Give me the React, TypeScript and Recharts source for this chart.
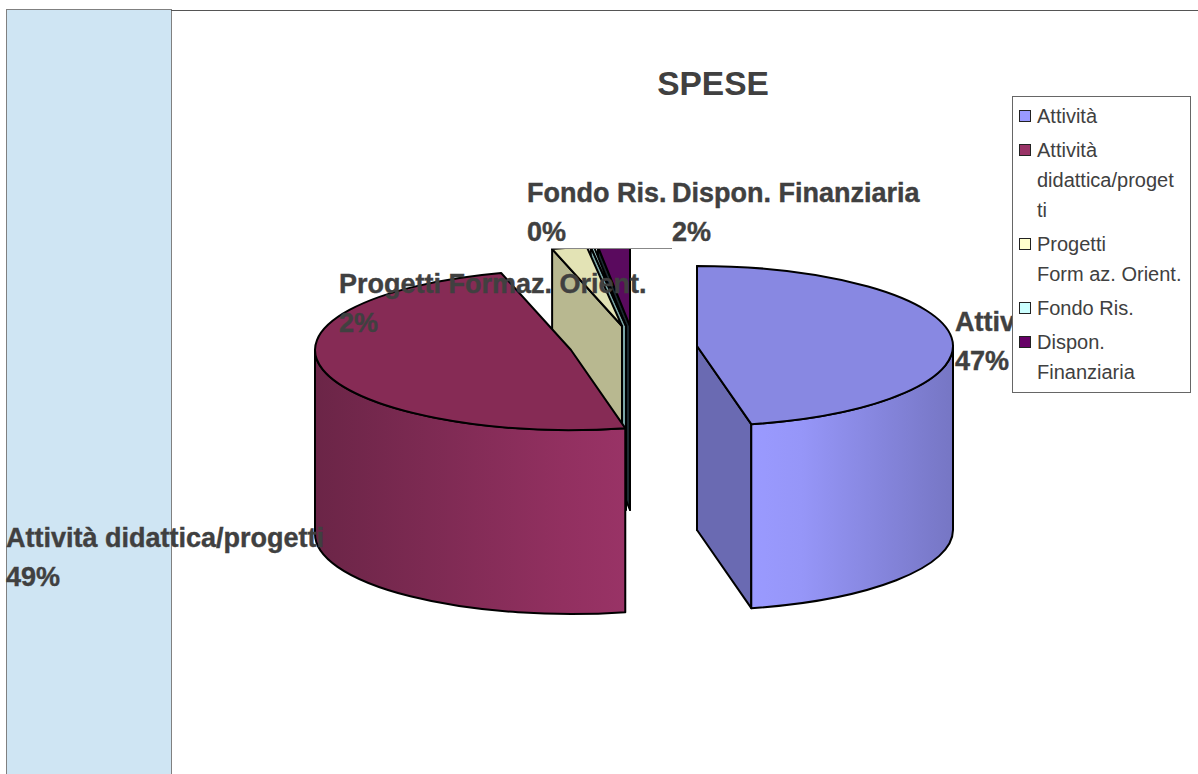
import React from "react";
import { PieChart, Pie, Legend } from "recharts";

const categories = ["Attività", "Attività didattica/progetti", "Progetti Formaz. Orient.", "Fondo Ris.", "Dispon. Finanziaria"];
const values = [46.6, 49, 2.2, 0.2, 2];
const legendLines = [["Attività"], ["Attività", "didattica/proget", "ti"], ["Progetti", "Form az. Orient."], ["Fondo Ris."], ["Dispon.", "Finanziaria"]];

// styles, by category position
const swatchColors = ["#9999ff", "#993366", "#ffffcc", "#ccffff", "#660066"];
const topColors = ["#8888e2", "#862b55", "#e3e3b5", "#b5e3e3", "#5a0a5e"];
const sideColors = ["#6a6ab2", "#6b2547", "#b8b890", "#7ba5a5", "#1c2a30"];
const wallFrom = ["#9a9aff", "#6b2547", "#b8b890", "#7ba5a5", "#3a0a3e"];
const wallTo = ["#7676c4", "#993366", "#e3e3b5", "#ccffff", "#660066"];
const explodeX = [77, -49, 2, 6, 10];
const explodeY = [6, 10, -14, -14, -14];
const labelX = [955, 6, 339, 527, 672];
const labelY = [331, 547, 293, 202, 202];

const CX = 620, CY = 340, RX = 256, TILT = 0.3125, DEPTH = 184, CLIP_TOP = 249;
const FONT = "'Liberation Sans', Arial, sans-serif";
const INK = "#404040";

const tableReversed = categories.map((name, i) => ({ name, value: values[i] })).reverse();

function Slice3D(props: any) {
  const i = categories.indexOf(props.name);
  const rx = props.outerRadius;
  const ry = rx * TILT;
  const cx = props.cx + explodeX[i];
  const cy = props.cy + explodeY[i];
  const span = Math.abs(props.endAngle - props.startAngle);
  const t1 = (((90 - props.endAngle) % 360) + 360) % 360;
  const t2 = t1 + span;
  const rad = (t: number) => (t * Math.PI) / 180;
  const px = (t: number) => cx + rx * Math.sin(rad(t));
  const py = (t: number, d = 0) => cy - ry * Math.cos(rad(t)) + d;
  const arcTo = (t: number, d: number, sweep: number, large: number) =>
    `A${rx} ${ry} 0 ${large} ${sweep} ${px(t)} ${py(t, d)}`;

  const topPath = `M${cx} ${cy}L${px(t1)} ${py(t1)}${arcTo(t2, 0, 1, span > 180 ? 1 : 0)}Z`;
  const radial = (t: number) => `M${cx} ${cy}L${px(t)} ${py(t)}L${px(t)} ${py(t, DEPTH)}L${cx} ${cy + DEPTH}Z`;
  const facesViewer = (normal: number) => Math.cos(rad(normal)) <= 1e-6;
  const a = Math.max(t1, 90);
  const b = Math.min(t2, 270);
  const gid = `wall-${i}`;
  const cid = `clip-${i}`;
  const line = { stroke: "#000", strokeWidth: 2, strokeLinejoin: "round" as const };
  return (
    <g clipPath={`url(#${cid})`}>
      <defs>
        <clipPath id={cid}>
          <rect x={0} y={CLIP_TOP} width={1198} height={774} />
        </clipPath>
        <linearGradient id={gid} x1="0" y1="0" x2="1" y2="0">
          <stop offset="0" stopColor={wallFrom[i]} />
          <stop offset={i === 0 ? "0.25" : "0.8"} stopColor={i === 0 ? "#9696f8" : "#923060"} />
          <stop offset="1" stopColor={wallTo[i]} />
        </linearGradient>
      </defs>
      {facesViewer(t2 + 90) && <path d={radial(t2)} fill={sideColors[i]} {...line} />}
      {facesViewer(t1 - 90) && <path d={radial(t1)} fill={sideColors[i]} {...line} />}
      {a < b && (
        <path
          d={`M${px(a)} ${py(a)}${arcTo(b, 0, 1, 0)}L${px(b)} ${py(b, DEPTH)}${arcTo(a, DEPTH, 0, 0)}Z`}
          fill={i < 2 ? `url(#${gid})` : wallTo[i]}
          {...line}
        />
      )}
      <path d={topPath} fill={topColors[i]} {...line} />
    </g>
  );
}

function SliceLabel(props: any) {
  const i = categories.indexOf(props.name);
  return (
    <text fontFamily={FONT} fontWeight="bold" fontSize={27} fill={INK} stroke={INK} strokeWidth={0.4} textAnchor="start">
      <tspan x={labelX[i]} y={labelY[i]}>{props.name}</tspan>
      <tspan x={labelX[i]} y={labelY[i] + 39}>{`${Math.round(props.percent * 100)}%`}</tspan>
    </text>
  );
}

function LegendBox() {
  return (
    <div
      style={{
        boxSizing: "border-box",
        width: 179,
        height: 297,
        background: "#fff",
        border: "1px solid #666",
        paddingTop: 4,
        fontFamily: FONT,
        fontSize: 20,
        lineHeight: "30px",
        letterSpacing: 0,
        color: INK,
        whiteSpace: "nowrap",
      }}
    >
      {legendLines.map((lines, i) => (
        <div key={i} style={{ position: "relative", paddingLeft: 24, marginBottom: 4 }}>
          <span
            style={{
              position: "absolute",
              left: 6,
              top: 9,
              width: 12,
              height: 12,
              boxSizing: "border-box",
              background: swatchColors[i],
              border: "1px solid #222",
            }}
          />
          {lines.map((l, j) => (
            <div key={j}>{l}</div>
          ))}
        </div>
      ))}
    </div>
  );
}

export default function App() {
  return (
    <div style={{ position: "absolute", left: 0, top: 0, width: 1198, height: 774, overflow: "hidden", background: "#fff" }}>
      <div style={{ position: "absolute", left: 6, top: 9, width: 164, height: 780, background: "#cfe5f3", border: "1px solid #808080" }} />
      <div style={{ position: "absolute", left: 171, top: 10, width: 1027, height: 1, background: "#555" }} />
      <div style={{ position: "absolute", left: 551, top: 248, width: 121, height: 1, background: "#888" }} />
      <PieChart width={1198} height={774} margin={{ top: 0, right: 0, bottom: 0, left: 0 }} style={{ position: "absolute", left: 0, top: 0 }}>
        <Pie
          data={tableReversed}
          dataKey="value"
          nameKey="name"
          cx={CX}
          cy={CY}
          innerRadius={0}
          outerRadius={RX}
          startAngle={90}
          endAngle={450}
          stroke="none"
          isAnimationActive={false}
          shape={Slice3D}
          label={SliceLabel}
          labelLine={false}
        />
        <Legend
          content={LegendBox}
          wrapperStyle={{ position: "absolute", left: 1012, top: 96, width: 179, height: 297, bottom: "auto", right: "auto" }}
        />
        <text x={713} y={95} textAnchor="middle" fontFamily={FONT} fontWeight="bold" fontSize={33.5} fill={INK}>
          SPESE
        </text>
      </PieChart>
    </div>
  );
}
